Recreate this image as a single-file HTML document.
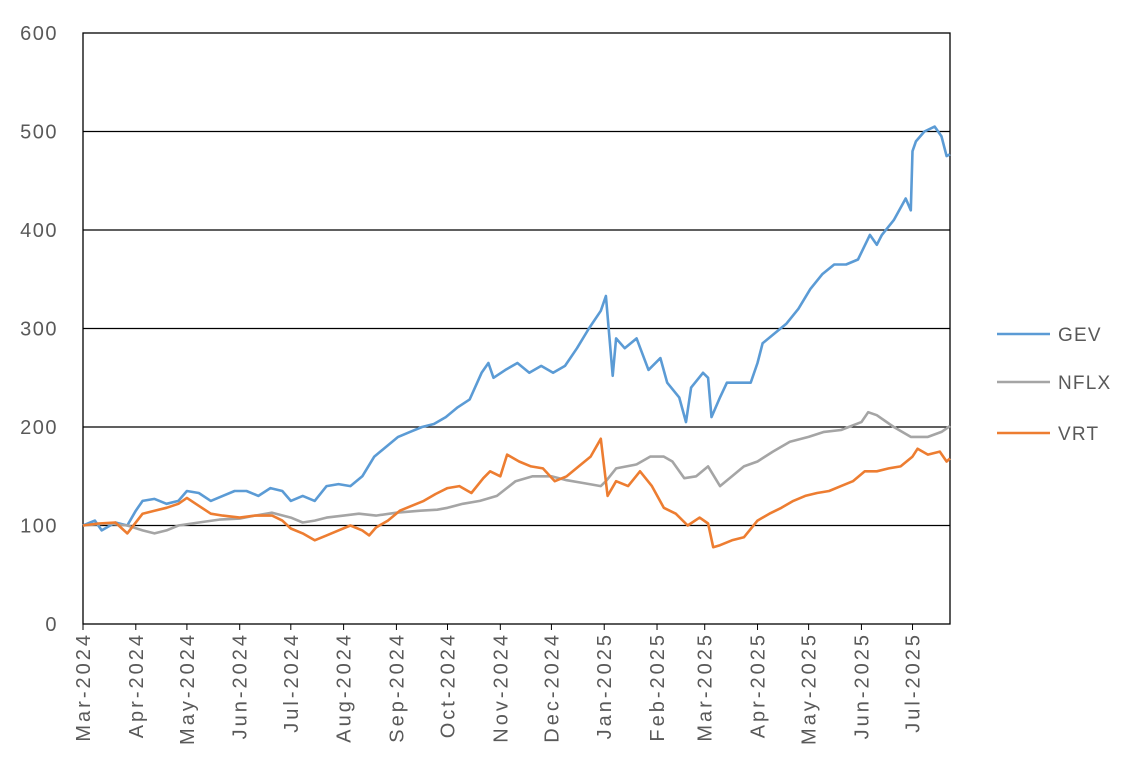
<!DOCTYPE html>
<html><head><meta charset="utf-8"><style>
html,body{margin:0;padding:0;background:#fff;width:1143px;height:769px;overflow:hidden}
text{font-family:"Liberation Sans",sans-serif;fill:#595959}
</style></head><body>
<svg id="chart" width="1143" height="769" xmlns="http://www.w3.org/2000/svg"></svg>
<script>
const gevDates=["2024-03-01","2024-03-08","2024-03-12","2024-03-20","2024-03-27","2024-04-01","2024-04-05","2024-04-12","2024-04-19","2024-04-26","2024-05-01","2024-05-08","2024-05-15","2024-05-22","2024-05-29","2024-06-05","2024-06-12","2024-06-19","2024-06-26","2024-07-01","2024-07-08","2024-07-15","2024-07-22","2024-07-29","2024-08-05","2024-08-12","2024-08-19","2024-08-26","2024-09-02","2024-09-09","2024-09-16","2024-09-23","2024-09-30","2024-10-07","2024-10-14","2024-10-21","2024-10-25","2024-10-28","2024-11-04","2024-11-11","2024-11-18","2024-11-25","2024-12-02","2024-12-09","2024-12-16","2024-12-23","2024-12-30","2025-01-02","2025-01-06","2025-01-08","2025-01-13","2025-01-20","2025-01-27","2025-02-03","2025-02-07","2025-02-14","2025-02-18","2025-02-21","2025-02-28","2025-03-03","2025-03-05","2025-03-10","2025-03-14","2025-03-21","2025-03-28","2025-04-01","2025-04-04","2025-04-11","2025-04-18","2025-04-25","2025-05-02","2025-05-09","2025-05-16","2025-05-23","2025-05-30","2025-06-06","2025-06-10","2025-06-13","2025-06-20","2025-06-27","2025-06-30","2025-07-01","2025-07-03","2025-07-08","2025-07-14","2025-07-18","2025-07-21","2025-07-23"];
const gevValues=[100,105,95,103,100,115,125,127,122,125,135,133,125,130,135,135,130,138,135,125,130,125,140,142,140,150,170,180,190,195,200,203,210,220,228,255,265,250,258,265,255,262,255,262,280,300,318,333,252,290,280,290,258,270,245,230,205,240,255,250,210,230,245,245,245,265,285,295,305,320,340,355,365,365,370,395,385,395,410,432,420,480,490,500,505,495,475,477];
const nflxDates=["2024-03-01","2024-03-15","2024-03-27","2024-04-05","2024-04-12","2024-04-19","2024-04-26","2024-05-08","2024-05-20","2024-06-01","2024-06-10","2024-06-20","2024-07-01","2024-07-08","2024-07-15","2024-07-22","2024-08-01","2024-08-10","2024-08-20","2024-09-01","2024-09-15","2024-09-25","2024-10-01","2024-10-10","2024-10-20","2024-10-30","2024-11-10","2024-11-20","2024-12-01","2024-12-10","2024-12-20","2024-12-30","2025-01-02","2025-01-08","2025-01-20","2025-01-28","2025-02-05","2025-02-10","2025-02-17","2025-02-24","2025-03-03","2025-03-10","2025-03-17","2025-03-24","2025-04-01","2025-04-10","2025-04-20","2025-05-01","2025-05-10","2025-05-20","2025-06-01","2025-06-05","2025-06-10","2025-06-20","2025-06-30","2025-07-10","2025-07-18","2025-07-23"];
const nflxValues=[100,102,100,95,92,95,100,103,106,107,110,113,108,103,105,108,110,112,110,113,115,116,118,122,125,130,145,150,150,146,143,140,145,158,162,170,170,165,148,150,160,140,150,160,165,175,185,190,195,197,205,215,212,200,190,190,195,201];
const vrtDates=["2024-03-01","2024-03-10","2024-03-20","2024-03-27","2024-04-05","2024-04-12","2024-04-19","2024-04-26","2024-05-01","2024-05-08","2024-05-15","2024-05-22","2024-06-01","2024-06-10","2024-06-20","2024-06-26","2024-07-01","2024-07-08","2024-07-15","2024-07-22","2024-07-29","2024-08-05","2024-08-12","2024-08-16","2024-08-20","2024-08-27","2024-09-03","2024-09-10","2024-09-17","2024-09-24","2024-10-01","2024-10-08","2024-10-15","2024-10-22","2024-10-26","2024-11-01","2024-11-05","2024-11-12","2024-11-19","2024-11-26","2024-12-03","2024-12-10","2024-12-17","2024-12-24","2024-12-30","2025-01-03","2025-01-08","2025-01-15","2025-01-22","2025-01-29","2025-02-05","2025-02-12","2025-02-19","2025-02-26","2025-03-03","2025-03-06","2025-03-10","2025-03-17","2025-03-24","2025-04-01","2025-04-08","2025-04-15","2025-04-22","2025-04-29","2025-05-06","2025-05-13","2025-05-20","2025-05-27","2025-06-03","2025-06-10","2025-06-17","2025-06-24","2025-07-01","2025-07-04","2025-07-10","2025-07-17","2025-07-21","2025-07-23"];
const vrtValues=[100,102,103,92,112,115,118,122,128,120,112,110,108,110,110,105,97,92,85,90,95,100,95,90,98,105,115,120,125,132,138,140,133,148,155,150,172,165,160,158,145,150,160,170,188,130,145,140,155,140,118,112,100,108,102,78,80,85,88,105,112,118,125,130,133,135,140,145,155,155,158,160,170,178,172,175,165,168];
const yTicks=[0,100,200,300,400,500,600];
const xTickLabels=["Mar-2024","Apr-2024","May-2024","Jun-2024","Jul-2024","Aug-2024","Sep-2024","Oct-2024","Nov-2024","Dec-2024","Jan-2025","Feb-2025","Mar-2025","Apr-2025","May-2025","Jun-2025","Jul-2025"];
const xTickDates=["2024-03-01","2024-04-01","2024-05-01","2024-06-01","2024-07-01","2024-08-01","2024-09-01","2024-10-01","2024-11-01","2024-12-01","2025-01-01","2025-02-01","2025-03-01","2025-04-01","2025-05-01","2025-06-01","2025-07-01"];
const seriesNames=["GEV","NFLX","VRT"];

const NS="http://www.w3.org/2000/svg";
const svg=document.getElementById('chart');
const L=83,R=950,T=33,B=624;
const d0=Date.parse("2024-03-01"),d1=Date.parse("2025-07-23");
function x(d){return L+(Date.parse(d)-d0)/(d1-d0)*(R-L);}
function y(v){return B-v/600*(B-T);}
function mk(tag,attrs){const e=document.createElementNS(NS,tag);for(const k in attrs)e.setAttribute(k,attrs[k]);svg.appendChild(e);return e;}

yTicks.forEach(v=>{
  if(v>0&&v<600){const g=mk('line',{x1:L,x2:R,y1:y(v),y2:y(v),stroke:'#000','stroke-width':1.3});
  
  }
  const t=mk('text',{x:58,y:y(v)+7,'text-anchor':'end','font-size':20,'letter-spacing':1.5});
  t.textContent=v;
  
  
});
const box=mk('rect',{x:L,y:T,width:R-L,height:B-T,fill:'none',stroke:'#000','stroke-width':1.3});


xTickDates.forEach((d,i)=>{
  const tk=mk('line',{x1:x(d),x2:x(d),y1:B,y2:B+6,stroke:'#000','stroke-width':1});
  
  
  const xx=x(d)+7,yy=B+8;
  const t=mk('text',{x:xx,y:yy,'text-anchor':'end','font-size':20,'letter-spacing':3,transform:`rotate(-90 ${xx} ${yy})`});
  t.textContent=xTickLabels[i];
  
  
});
const colors=["#5B9BD5","#A5A5A5","#ED7D31"];
const sets=[[gevDates,gevValues],[nflxDates,nflxValues],[vrtDates,vrtValues]];
sets.forEach((s,i)=>{
  const pts=s[0].map((d,j)=>x(d).toFixed(1)+','+y(s[1][j]).toFixed(1)).join(' ');
  const p=mk('polyline',{points:pts,fill:'none',stroke:colors[i],'stroke-width':2.6,'stroke-linejoin':'round'});
  
  
});
[334,382,433].forEach((ly,i)=>{
  const l=mk('line',{x1:997,x2:1050,y1:ly,y2:ly,stroke:colors[i],'stroke-width':2.6});
  
  
  const t=mk('text',{x:1058,y:ly+7,'font-size':19,'letter-spacing':1.2});
  t.textContent=seriesNames[i];
  
  
});
</script>
</body></html>
